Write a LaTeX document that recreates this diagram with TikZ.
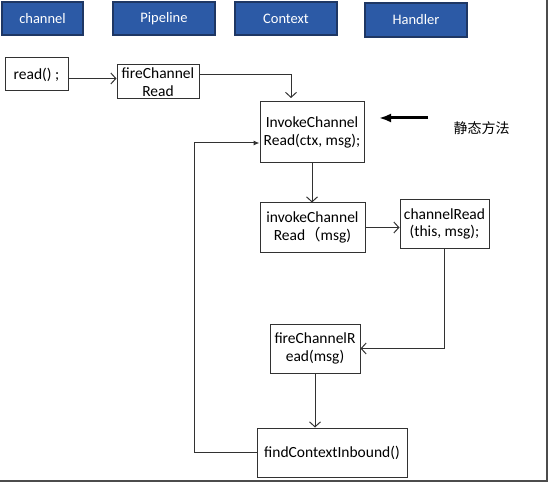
\documentclass[tikz,border=0pt]{standalone}
\usepackage{fontspec}
\setmainfont{Carlito}
\newfontfamily\cjk{Noto Sans CJK SC}
\usepackage{tikz}
\usetikzlibrary{arrows,arrows.meta}
\definecolor{hdrblue}{RGB}{44,90,166}
\definecolor{hdrline}{RGB}{30,55,100}
\definecolor{ink}{RGB}{50,50,50}
\tikzstyle{header}=[rectangle,fill=hdrblue,draw=hdrline,line width=1.2pt,text=white,inner sep=0pt,font=\fontsize{14.5}{17}\selectfont]
\tikzstyle{call}=[rectangle,draw=ink,line width=1pt,fill=white,align=center,inner sep=0pt]

\begin{document}
\begin{tikzpicture}[x=1pt,y=-1pt,>={Straight Barb[length=5pt,width=11pt]},font=\fontsize{15.5}{17.5}\selectfont]
     \useasboundingbox (0,0) rectangle (552,484);
     % column heads
     \node (chan) [header,minimum width=81,minimum height=33] at (42.5,18.5) {channel};
     \node (pipe) [header,minimum width=102,minimum height=33] at (164,18.5) {Pipeline};
     \node (ctx)  [header,minimum width=102,minimum height=33] at (286,18.5) {Context};
     \node (hand) [header,minimum width=102,minimum height=34] at (416,20) {Handler};
     % calls
     \node (read)   [call,minimum width=63,minimum height=33] at (36.5,74.5) {read() ;};
     \node (fire)   [call,minimum width=82,minimum height=34] at (158,82) {fireChannel\\Read};
     \node (invoke) [call,minimum width=104,minimum height=61] at (312,132.5) {InvokeChannel\\Read(ctx, msg);};
     \node (invk)   [call,minimum width=105,minimum height=49] at (312.5,227.5) {invokeChannel\\Read{\cjk （}msg)};
     \node (chread) [call,minimum width=89,minimum height=48] at (444.5,224) {channelRead\\(this, msg);};
     \node (firer)  [call,minimum width=90,minimum height=49] at (315,348.5) {fireChannelR\\ead(msg)};
     \node (find)   [call,minimum width=150,minimum height=49] at (332,452.5) {findContextInbound()};
     \node (note) [anchor=west] at (450,128) {\cjk\fontsize{14}{17}\selectfont 静态方法};
     \coordinate (drop) at (291,98);
     \coordinate (loop) at (194,143);
     \coordinate (tail) at (428,118);
     \coordinate (tip) at (379,118);
     \path[ink,line width=1pt]
     ([yshift=-4pt]read.east) edge[->] ([yshift=-4pt]read.east -| fire.west)
     (invoke) edge[->] (invoke |- invk.north)
     (invk) edge[->] (invk -| chread.west)
     (firer) edge[->] (firer |- find.north);
     \draw[->,ink,line width=1pt] ([yshift=7pt]fire.east) -| (drop);
     \draw[->,ink,line width=1pt] (chread.south) |- (firer.east);
     \draw[-{Latex[length=6pt,width=5pt]},ink,line width=1pt] (find.west) -| (loop) -- (loop -| invoke.west);
     \draw[-{Latex[length=12pt,width=9pt]},black,line width=3pt] (tail) -- (tip);
     % page edge
     \draw[gray!60!black,line width=2.5pt] (547,0) -- (547,481) -- (0,481);
  \end{tikzpicture}
\end{document}
